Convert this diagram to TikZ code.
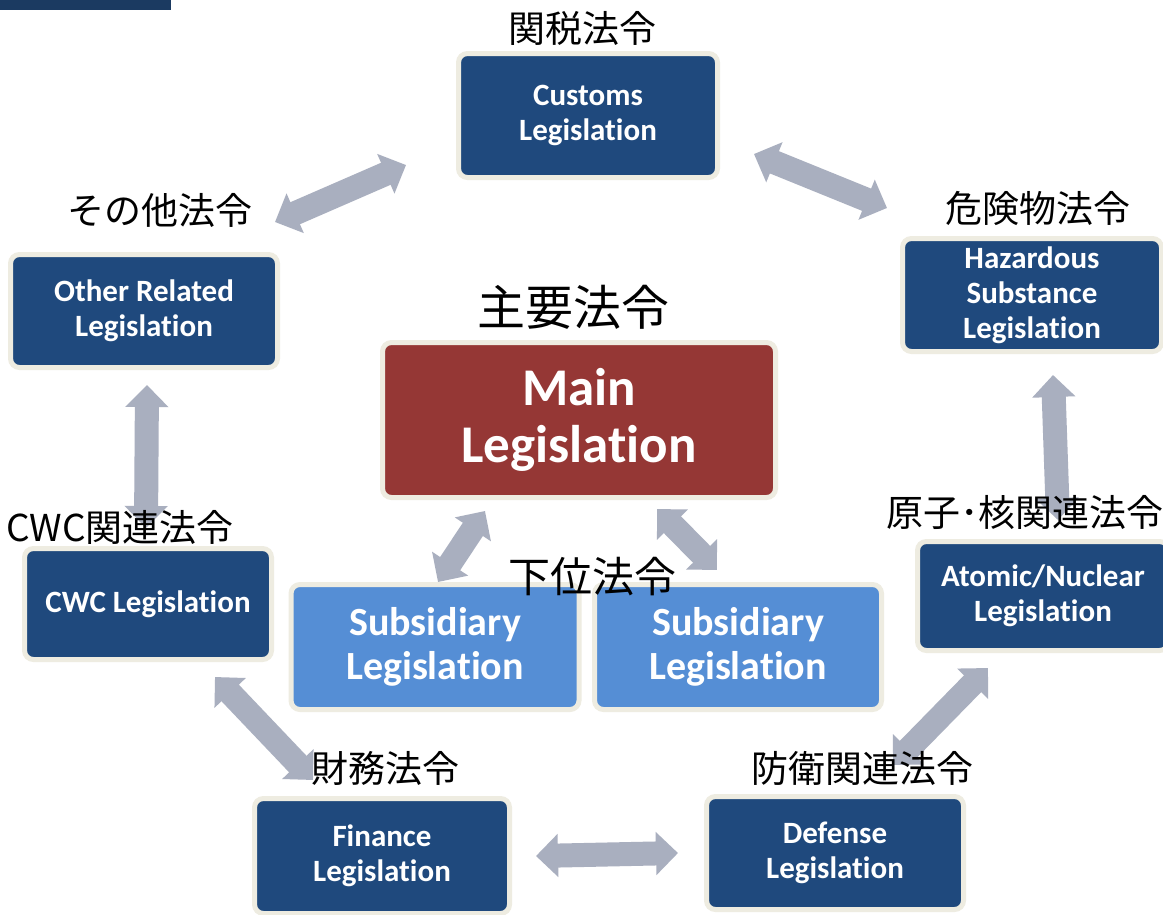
\documentclass[tikz,border=0pt]{standalone}
\usepackage{fontspec}
\setmainfont{Carlito}[Ligatures=NoCommon]
\newfontfamily\jp{Noto Sans CJK JP}
\usetikzlibrary{arrows.meta}
\definecolor{boxblue}{HTML}{1F497D}
\definecolor{barblue}{HTML}{1B3A61}
\definecolor{cream}{HTML}{EEECE1}
\definecolor{mainred}{HTML}{953735}
\definecolor{subblue}{HTML}{558ED5}
\definecolor{arrowgray}{HTML}{A9AFBF}
\begin{document}
\begin{tikzpicture}[x=1pt,y=-1pt,
  box/.style={draw=cream, line width=5pt, rounded corners=9pt, fill=boxblue, text=white,
    font=\fontsize{31}{35}\selectfont\bfseries, align=center, inner sep=0pt},
  mainbox/.style={box, fill=mainred, font=\fontsize{53}{57}\selectfont\bfseries},
  subbox/.style={box, fill=subblue, font=\fontsize{40}{44}\selectfont\bfseries},
  lab/.style={font=\jp\fontsize{37}{42}\selectfont, inner sep=0pt, text=black},
  dbl/.style={draw=arrowgray, line width=24pt,
    {Triangle[width=42pt,length=22pt]}-{Triangle[width=42pt,length=22pt]}}]
\clip (0,0) rectangle (1163,914);
\fill[white] (0,0) rectangle (1163,914);
\fill[barblue] (0,0) rectangle (171,10);

% arrow end points
\coordinate (a1s) at (275,222);  \coordinate (a1e) at (406,165);
\coordinate (a2s) at (754,154);  \coordinate (a2e) at (887,208);
\coordinate (a3s) at (147,385);  \coordinate (a3e) at (146,528);
\coordinate (a4s) at (1053,375); \coordinate (a4e) at (1058,520);
\coordinate (a5s) at (485,511);  \coordinate (a5e) at (438,582);
\coordinate (a6s) at (657,509);  \coordinate (a6e) at (717,570);
\coordinate (a7s) at (215,677);  \coordinate (a7e) at (313,780);
\coordinate (a8s) at (536,856);  \coordinate (a8e) at (678,853);
\coordinate (a9s) at (988,668);  \coordinate (a9e) at (893,765);

\foreach \i in {1,...,9} { \draw[dbl] (a\i s) -- (a\i e); }

% boxes
\node[box, minimum width=259pt, minimum height=124pt] (customs) at (588,115.5) {Customs\\Legislation};
\node[box, minimum width=259pt, minimum height=113pt] (hazard) at (1032,295) {Hazardous\\Substance\\Legislation};
\node[box, minimum width=267pt, minimum height=113pt] (other) at (144,311) {Other Related\\Legislation};
\node[mainbox, minimum width=393pt, minimum height=155pt] (main) at (579,420) {Main\\Legislation};
\node[box, minimum width=247pt, minimum height=111pt] (cwc) at (148,604) {CWC Legislation};
\node[box, minimum width=251pt, minimum height=109pt] (atomic) at (1043,596) {Atomic/Nuclear\\Legislation};
\node[subbox, minimum width=288pt, minimum height=125pt] (sub1) at (435,647) {Subsidiary\\Legislation};
\node[subbox, minimum width=287pt, minimum height=125pt] (sub2) at (738,647) {Subsidiary\\Legislation};
\node[box, minimum width=255pt, minimum height=115pt] (finance) at (382,856) {Finance\\Legislation};
\node[box, minimum width=257pt, minimum height=113pt] (defense) at (835,853) {Defense\\Legislation};

% labels
\node[lab] (lcustoms) at (582,28) {関税法令};
\node[lab] (lother) at (160,210) {その他法令};
\node[lab] (lhazard) at (1038,208) {危険物法令};
\node[lab, font=\jp\fontsize{48}{54}\selectfont] (lmain) at (573,307) {主要法令};
\node[lab] (lcwc) at (120,527) {CWC関連法令};
\node[lab] (latomic) at (1025,512) {原子･核関連法令};
\node[lab, font=\jp\fontsize{42}{47}\selectfont] (lsub) at (592,577) {下位法令};
\node[lab] (lfinance) at (385,768) {財務法令};
\node[lab] (ldefense) at (862,768) {防衛関連法令};
\end{tikzpicture}
\end{document}
